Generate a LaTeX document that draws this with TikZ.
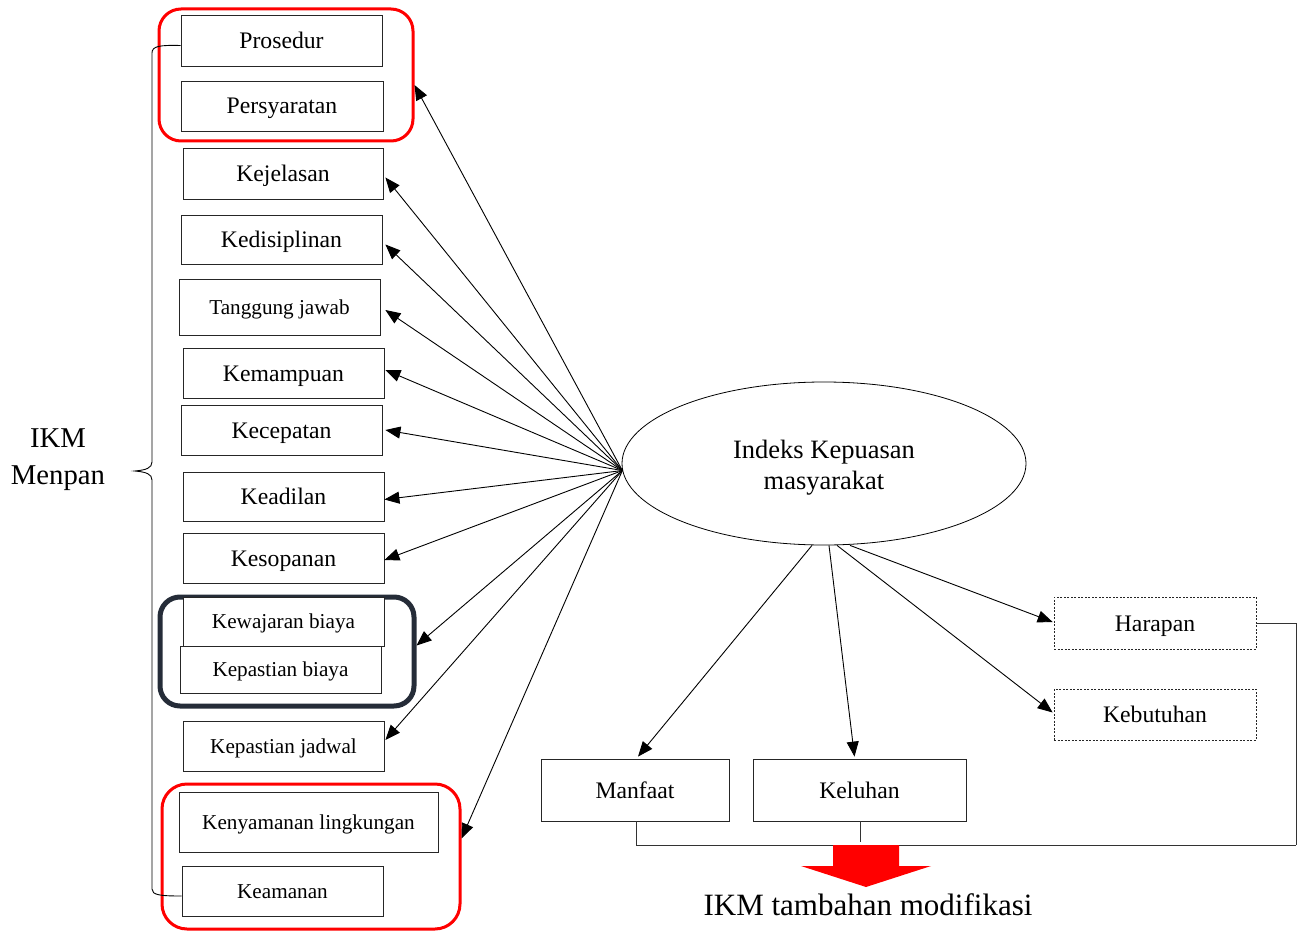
\documentclass[tikz,border=0pt]{standalone}
\usepackage{fontspec}
\setmainfont{Liberation Serif}
\usetikzlibrary{arrows.meta,calc,shapes.geometric}
\definecolor{navyd}{HTML}{252C38}
\begin{document}
\begin{tikzpicture}[x=1pt,y=-1pt,
 box/.style={draw=black!85, line width=0.8pt, fill=white, inner sep=0pt, minimum width=201pt, minimum height=50pt, text height=19pt, text depth=3pt, font=\fontsize{23.7}{28}\selectfont},
 sbox/.style={box, text height=17pt, text depth=3pt, font=\fontsize{21.2}{25}\selectfont},
 dbox/.style={box, dash pattern=on 2pt off 1.5pt, line width=0.7pt},
 redgrp/.style={draw=red, line width=3pt, rounded corners=22pt, inner sep=0pt},
 darkgrp/.style={draw=navyd, line width=5pt, rounded corners=20pt, inner sep=0pt},
 arr/.style={-{Triangle[length=15pt,width=12pt]}, line width=0.9pt},
 conn/.style={line width=1pt, draw=black!80}]
\useasboundingbox (0,0) rectangle (1304,931);

% group frames
\node[redgrp, minimum width=254pt, minimum height=132pt] (G1) at (286,75) {};
\node[darkgrp, minimum width=254pt, minimum height=109pt] (G2) at (287,651.5) {};
\node[redgrp, rounded corners=25pt, minimum width=298pt, minimum height=145pt] (G3) at (311,856.5) {};

% left boxes
\node[box, minimum height=51pt] (Pro) at (281.5,40.5) {Prosedur};
\node[box, minimum width=202pt] (Per) at (282,106) {Persyaratan};
\node[box, minimum width=200pt, minimum height=51pt] (Kej) at (283,173.5) {Kejelasan};
\node[box, minimum height=49pt] (Ked) at (281.5,239.5) {Kedisiplinan};
\node[sbox, minimum height=56pt] (Tan) at (279.5,307) {Tanggung jawab};
\node[box] (Kem) at (283.5,373) {Kemampuan};
\node[box] (Kec) at (281.5,430) {Kecepatan};
\node[box, minimum height=49pt] (Kea) at (283.5,496.5) {Keadilan};
\node[box] (Kes) at (283.5,558) {Kesopanan};
\node[sbox, minimum height=49pt] (Kew) at (283.5,621.5) {Kewajaran biaya};
\node[sbox, minimum height=47pt] (Kpb) at (280.5,669.5) {Kepastian biaya};
\node[sbox] (Kpj) at (283.5,746) {Kepastian jadwal};
\node[sbox, minimum width=259pt, minimum height=60pt] (Ken) at (308.5,822) {Kenyamanan lingkungan};
\node[sbox] (Kam) at (282.5,891) {Keamanan};

% brace and label
\draw[line width=0.9pt] ($(Pro.west)+(0,5)$) .. controls (160,45) and (152,46) .. (152,53)
  -- (152,462) .. controls (152,468) and (146,470) .. (135,471)
  .. controls (146,472) and (152,474) .. (152,480)
  -- (152,889) .. controls (152,895) and (160,896) .. ($(Kam.west)+(0,5)$);
\node[font=\fontsize{28.7}{37}\selectfont, align=center] (IKM) at (58,460) {IKM\\Menpan};

% central ellipse
\node[ellipse, draw, line width=0.8pt, minimum width=404pt, minimum height=163pt, inner sep=0pt,
  label={[font=\fontsize{26.5}{31}\selectfont, align=center, yshift=-4pt]center:Indeks Kepuasan\\masyarakat}] (E) at (824,463.5) {};

% arrows to left
\draw[arr] (E.182) -- ($(G1.east)+(0,10)$);
\draw[arr] (E.182) -- ($(Kej.east)+(2,4)$);
\draw[arr] (E.182) -- ($(Ked.east)+(3,5)$);
\draw[arr] (E.182) -- ($(Tan.east)+(5,3)$);
\draw[arr] (E.182) -- ($(Kem.east)+(1,-3)$);
\draw[arr] (E.182) -- ($(Kec.east)+(3,0)$);
\draw[arr] (E.182) -- ($(Kea.east)+(0,3)$);
\draw[arr] (E.182) -- ($(Kes.east)+(0,2)$);
\draw[arr] (E.182) -- ($(G2.east)+(0,-6)$);
\draw[arr] (E.182) -- ($(Kpj.east)+(1,-6)$);
\draw[arr] (E.182) -- ($(G3.east)+(0,-18)$);

% right / bottom boxes
\node[box, minimum width=188pt, minimum height=62pt] (Man) at (635,790) {Manfaat};
\node[box, minimum width=213pt, minimum height=62pt] (Kel) at (859.5,790) {Keluhan};
\node[dbox, minimum width=202pt, minimum height=52pt] (Har) at (1155,623) {Harapan};
\node[dbox, minimum width=202pt, minimum height=51pt] (Keb) at (1155,714.5) {Kebutuhan};

\draw[arr] ($(E.south)+(-12,0)$) -- ($(Man.north)+(3,-2)$);
\draw[arr] ($(E.south)+(5,0)$) -- ($(Kel.north)+(-5,-2)$);
\draw[arr] ($(E.south)+(13,0)$) -- ($(Keb.west)+(-1,-2)$);
\draw[arr] ($(E.south)+(26,0)$) -- ($(Har.west)+(-1,-1)$);

% collecting lines
\coordinate (R) at (1296,845);
\draw[conn] ($(Man.south)+(1,0)$) |- (R);
\draw[conn] (Har.east) -| (R);
\draw[conn] ($(Keb.south)+(13,0)$) -- ($(Keb.south)+(13,0)$ |- R);
\draw[conn] ($(Kel.south)+(0.5,0)$) -- ++(0,21);

% big red arrow
\fill[red] (833,845) -- (899,845) -- (899,866) -- (931,866) -- (866,887) -- (801,866) -- (833,866) -- cycle;
\node[font=\fontsize{31}{36}\selectfont] (T) at (868,905) {IKM tambahan modifikasi};
\end{tikzpicture}
\end{document}
